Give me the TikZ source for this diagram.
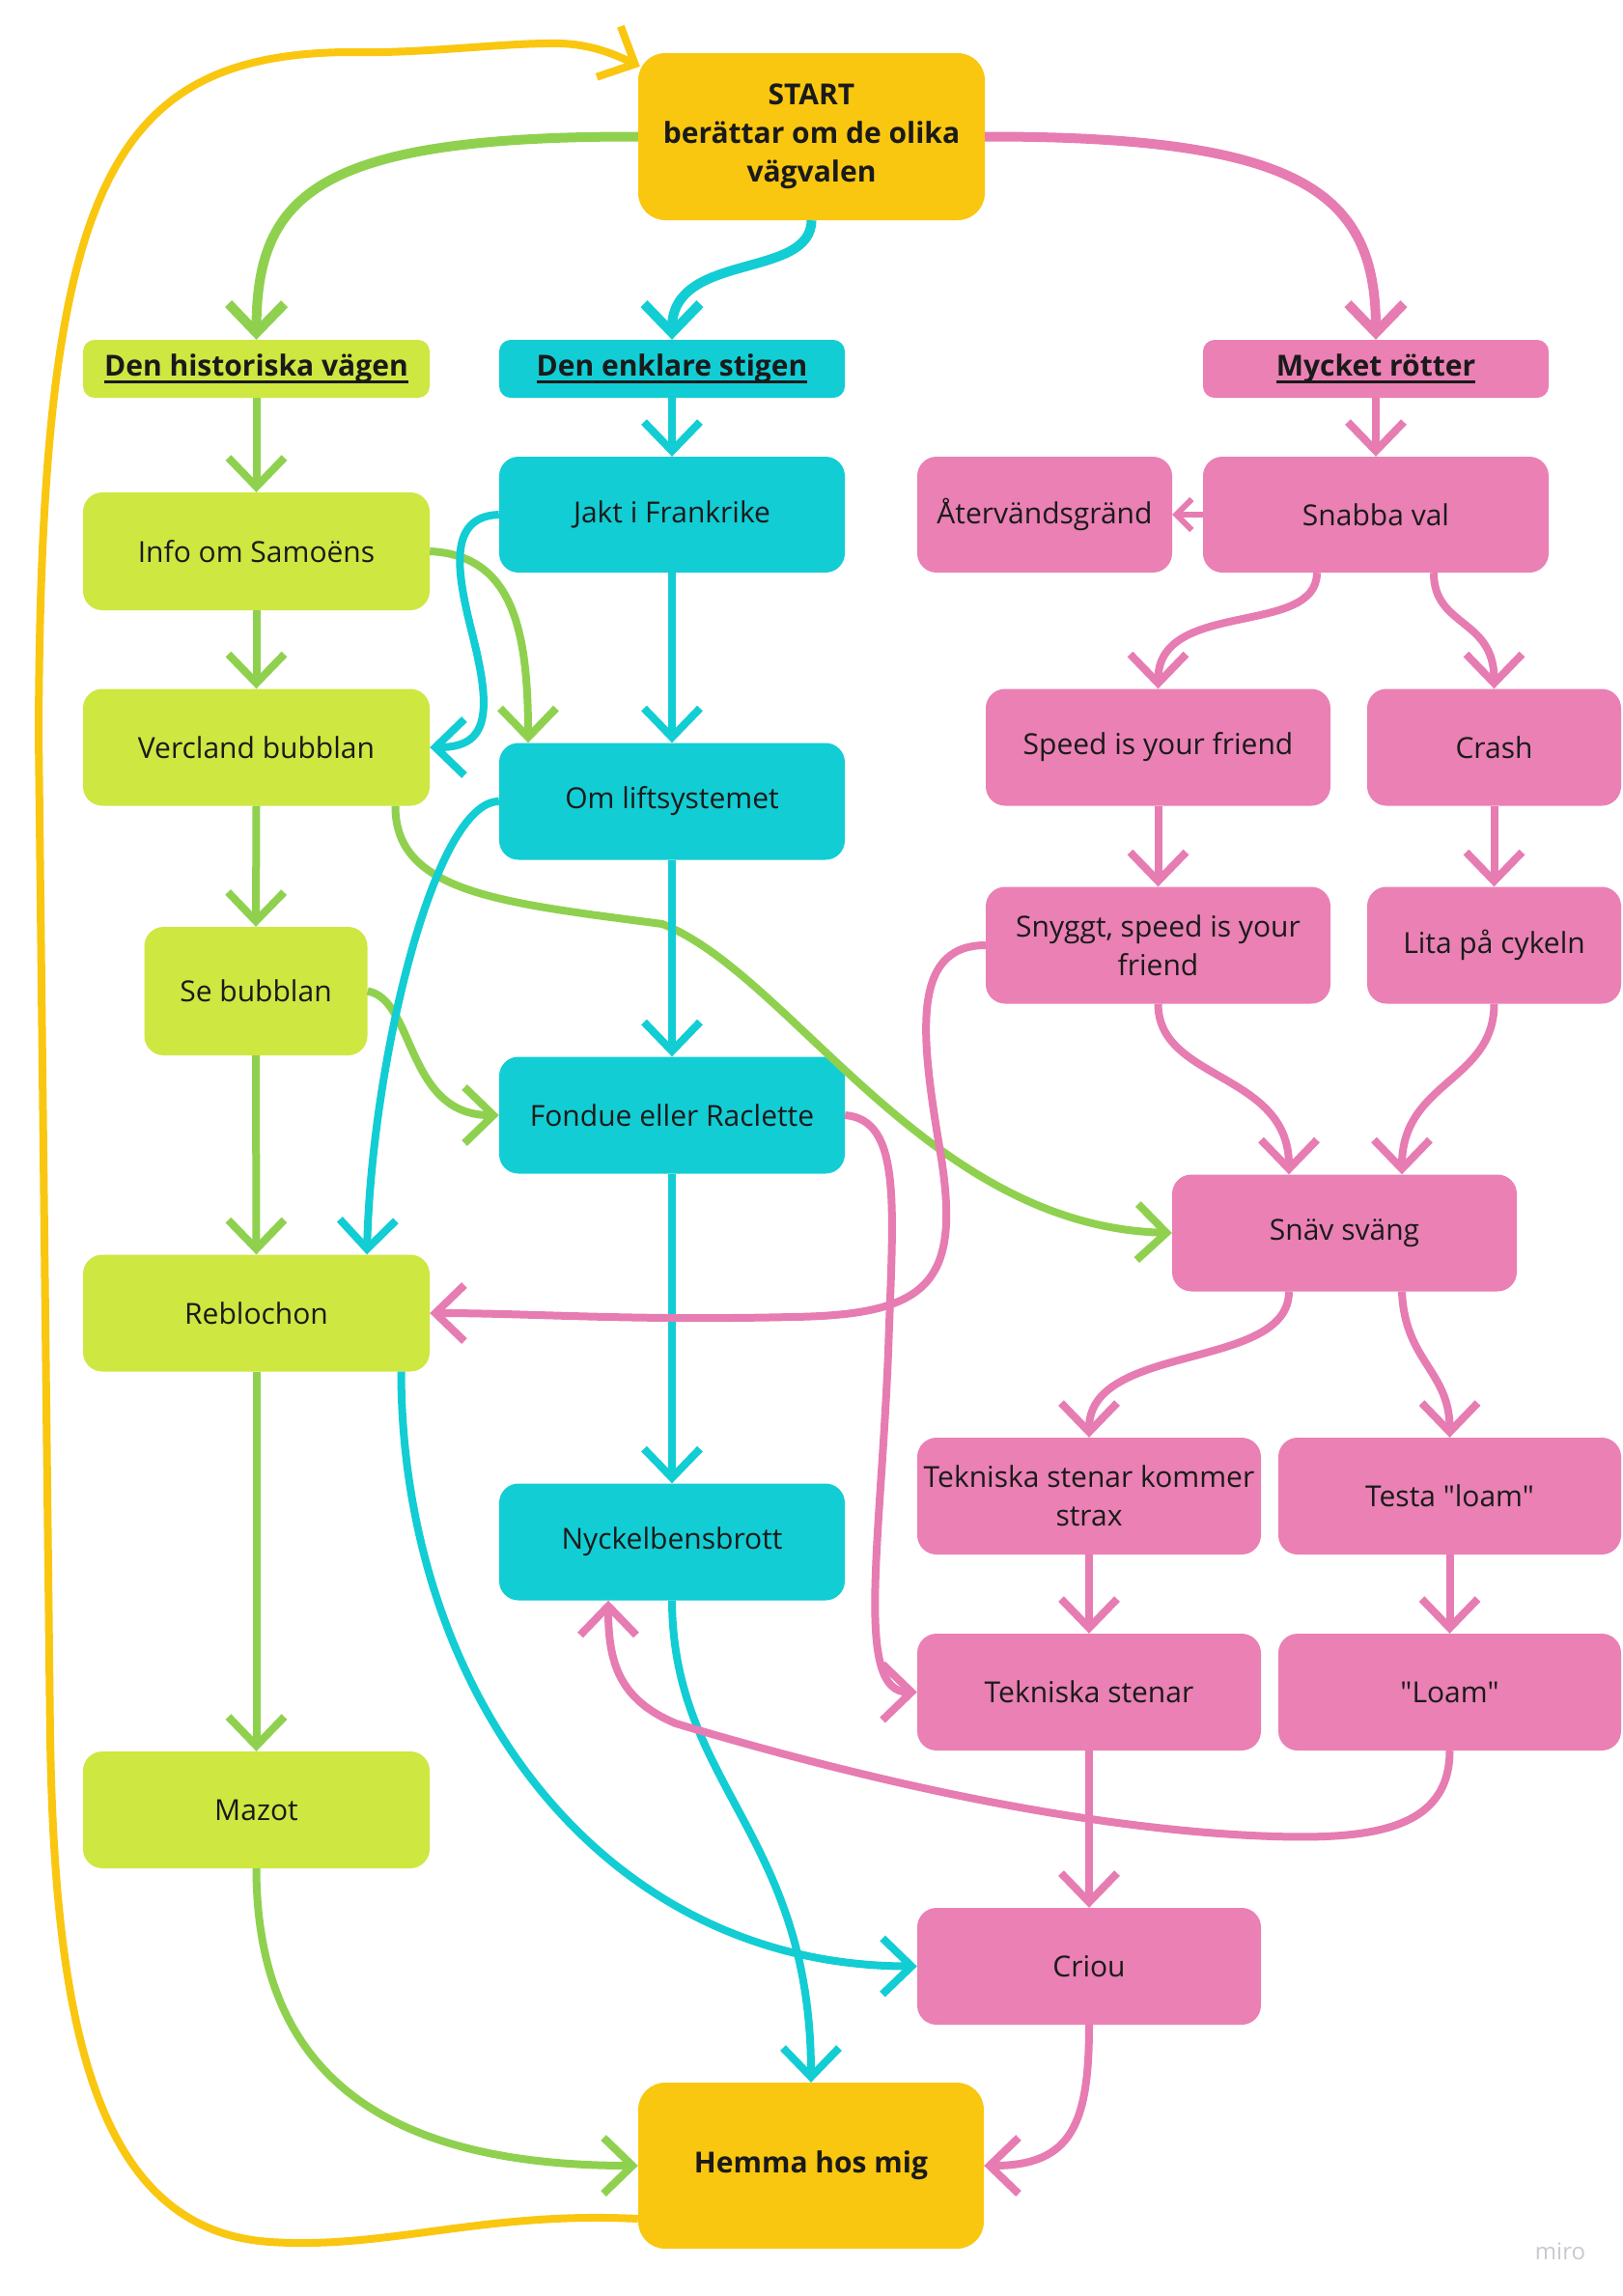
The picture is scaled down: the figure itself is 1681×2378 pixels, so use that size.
\documentclass[tikz,border=0pt]{standalone}
\usepackage{fontspec}
\setmainfont{Open Sans}
\newfontfamily\osans{Open Sans}
\usetikzlibrary{arrows.meta,calc}
\definecolor{cyel}{HTML}{FAC710}
\definecolor{clime}{HTML}{CEE741}
\definecolor{ccyan}{HTML}{12CDD4}
\definecolor{cpink}{HTML}{EA80B4}
\definecolor{lgreen}{HTML}{8FD14F}
\definecolor{lpink}{HTML}{E67CB2}
\definecolor{txt}{HTML}{1A1A1A}
\definecolor{mirogray}{HTML}{C8C9D0}
\newsavebox\hulbox
\newcommand\hul[1]{\sbox\hulbox{#1}\rlap{\rule[-8pt]{\wd\hulbox}{3.5pt}}\usebox\hulbox}
\begin{document}
\begin{tikzpicture}[x=1pt,y=-1pt,
  box/.style={rounded corners=20pt, inner sep=0pt, align=center, text=txt,
    font=\osans\fontsize{30}{40}\selectfont},
  hdr/.style={box, rounded corners=12pt, font=\osans\fontsize{30}{40}\selectfont\bfseries},
  big/.style={box, rounded corners=28pt, font=\osans\fontsize{30}{40}\selectfont\bfseries},
  sz/.style 2 args={minimum width=#1pt, minimum height=#2pt},
  ln/.style={line width=8pt},
  thick line/.style={line width=10pt},
  tip/.style={-{Straight Barb[length=30pt,width=58pt]}},
  smalltip/.style={-{Straight Barb[length=16pt,width=32pt]}},
  gl/.style={ln, tip, draw=lgreen},
  cl/.style={ln, tip, draw=ccyan},
  pl/.style={ln, tip, draw=lpink},
  yl/.style={ln, tip, draw=cyel},
]
\fill[white] (0,0) rectangle (1681,2378);
\useasboundingbox (0,0) rectangle (1681,2378);

% nodes
\node[big, fill=cyel, sz={359}{173}] (start) at (840.5,141.5) {START\\berättar om de olika\\vägvalen};
\node[big, fill=cyel, sz={358}{172}] (hemma) at (840,2243) {Hemma hos mig};

\node[hdr, fill=clime, sz={359}{60}] (hist) at (265.5,382) {\hul{Den historiska vägen}};
\node[hdr, fill=ccyan, sz={358}{60}] (enkl) at (696,382) {\hul{Den enklare stigen}};
\node[hdr, fill=cpink, sz={358}{60}] (mycket) at (1425,382) {\hul{Mycket rötter}};

\node[box, fill=clime, sz={359}{122}] (info) at (265.5,571) {Info om Samoëns};
\node[box, fill=clime, sz={359}{121}] (vercland) at (265.5,774) {Vercland bubblan};
\node[box, fill=clime, sz={231}{133}] (sebubb) at (265,1026.5) {Se bubblan};
\node[box, fill=clime, sz={359}{121}] (rebl) at (265.5,1360) {Reblochon};
\node[box, fill=clime, sz={359}{121}] (mazot) at (265.5,1874.5) {Mazot};

\node[box, fill=ccyan, sz={358}{120}] (jakt) at (696,533) {Jakt i Frankrike};
\node[box, fill=ccyan, sz={358}{121}] (omlift) at (696,830) {Om liftsystemet};
\node[box, fill=ccyan, sz={358}{121}] (fondue) at (696,1155) {Fondue eller Raclette};
\node[box, fill=ccyan, sz={358}{121}] (nyckel) at (696,1597) {Nyckelbensbrott};

\node[box, fill=cpink, sz={264}{120}] (aterv) at (1082,533) {Återvändsgränd};
\node[box, fill=cpink, sz={358}{120}] (snabba) at (1425,533) {Snabba val};
\node[box, fill=cpink, sz={357}{121}] (speed) at (1199.5,774) {Speed is your friend};
\node[box, fill=cpink, sz={263}{121}] (crash) at (1547.5,774) {Crash};
\node[box, fill=cpink, sz={357}{121}] (snyggt) at (1199.5,979) {Snyggt, speed is your\\friend};
\node[box, fill=cpink, sz={263}{121}] (lita) at (1547.5,979) {Lita på cykeln};
\node[box, fill=cpink, sz={357}{121}] (snav) at (1392.5,1277) {Snäv sväng};
\node[box, fill=cpink, sz={356}{121}] (tekk) at (1128,1549.5) {Tekniska stenar kommer\\strax};
\node[box, fill=cpink, sz={355}{121}] (testa) at (1501.5,1549.5) {Testa "loam"};
\node[box, fill=cpink, sz={356}{121}] (teks) at (1128,1752.5) {Tekniska stenar};
\node[box, fill=cpink, sz={355}{121}] (loam) at (1501.5,1752.5) {"Loam"};
\node[box, fill=cpink, sz={356}{121}] (criou) at (1128,2036.5) {Criou};

\node[text=mirogray, font=\osans\fontsize{24}{28}\selectfont, inner sep=0pt] (miro) at (1616,2332) {miro};

% green connectors
\draw[gl, thick line] (start.west) .. controls (330,141) and (266,200) .. (hist.north);
\draw[gl] (hist.south) -- (info.north);
\draw[gl] (info.south) -- (vercland.north);
\draw[gl] (vercland.south) -- (sebubb.north);
\draw[gl] (sebubb.south) -- (rebl.north);
\draw[gl] (rebl.south) -- (mazot.north);
\draw[gl] (mazot.south) .. controls (266,2150) and (400,2243) .. (hemma.west);
\draw[gl] (info.east) .. controls (530,575) and (547,650) .. ([xshift=-149pt]omlift.north);
\draw[gl] ([xshift=144pt]vercland.south) .. controls (409,925) and (520,935) .. (686,957)
   .. controls (820,1010) and (960,1270) .. (snav.west);
\draw[gl] (sebubb.east) .. controls (430,1035) and (420,1155) .. (fondue.west);

% cyan connectors
\draw[cl, thick line] (start.south) .. controls (840,290) and (696,260) .. (enkl.north);
\draw[cl] (enkl.south) -- (jakt.north);
\draw[cl] (jakt.south) -- (omlift.north);
\draw[cl] (omlift.south) -- (fondue.north);
\draw[cl] (fondue.south) -- (nyckel.north);
\draw[cl] (jakt.west) .. controls (460,535) and (475,600) .. (490,660)
   .. controls (510,740) and (505,774) .. (vercland.east);
\draw[cl] (omlift.west) .. controls (450,830) and (385,1100) .. ([xshift=114.5pt]rebl.north);
\draw[cl] ([xshift=150pt]rebl.south) .. controls (416,1750) and (620,2036) .. (criou.west);
\draw[cl] (nyckel.south) .. controls (697,1850) and (840,1900) .. (hemma.north);

% pink connectors
\draw[pl, thick line] (start.east) .. controls (1350,141) and (1425,200) .. (mycket.north);
\draw[pl] (mycket.south) -- (snabba.north);
\draw[draw=lpink, line width=6pt, smalltip] (snabba.west) -- (aterv.east);
\draw[pl] ([xshift=-61pt]snabba.south) .. controls (1364,660) and (1199.5,620) .. (speed.north);
\draw[pl] ([xshift=60pt]snabba.south) .. controls (1485,650) and (1547.5,640) .. (crash.north);
\draw[pl] (speed.south) -- (snyggt.north);
\draw[pl] (crash.south) -- (lita.north);
\draw[pl] (snyggt.south) .. controls (1199.5,1120) and (1335,1110) .. ([xshift=-57.5pt]snav.north);
\draw[pl] (lita.south) .. controls (1547.5,1120) and (1452,1120) .. ([xshift=59.5pt]snav.north);
\draw[pl] (snyggt.west) .. controls (940,979) and (955,1080) .. (975,1200)
   .. controls (995,1330) and (960,1362) .. (820,1364)
   .. controls (650,1368) and (550,1360) .. (rebl.east);
\draw[pl] (fondue.east) .. controls (935,1160) and (925,1250) .. (920,1400)
   .. controls (912,1600) and (885,1752.5) .. (teks.west);
\draw[pl] (tekk.south) -- (teks.north);
\draw[pl] (testa.south) -- (loam.north);
\draw[pl] (teks.south) -- (criou.north);
\draw[pl] ([xshift=-57.5pt]snav.south) .. controls (1335,1420) and (1128,1390) .. (tekk.north);
\draw[pl] ([xshift=59.5pt]snav.south) .. controls (1455,1410) and (1501.5,1420) .. (testa.north);
\draw[pl] (loam.south) .. controls (1501.5,1895) and (1420,1905) .. (1320,1902)
   .. controls (1100,1895) and (850,1830) .. (700,1785)
   .. controls (640,1760) and (630,1720) .. ([xshift=-66pt]nyckel.south);
\draw[pl] (criou.south) .. controls (1128,2200) and (1110,2243) .. (hemma.east);

% yellow loop
\draw[yl] ([yshift=-55pt]hemma.west) .. controls (500,2290) and (400,2330) .. (280,2322)
   .. controls (100,2310) and (57,2100) .. (52,1800)
   -- (40,760)
   .. controls (42,200) and (110,58) .. (357,54)
   .. controls (440,56) and (520,44) .. (580,45)
   .. controls (615,46) and (640,58) .. ([xshift=2pt,yshift=-14pt]start.north west);
\end{tikzpicture}
\end{document}
